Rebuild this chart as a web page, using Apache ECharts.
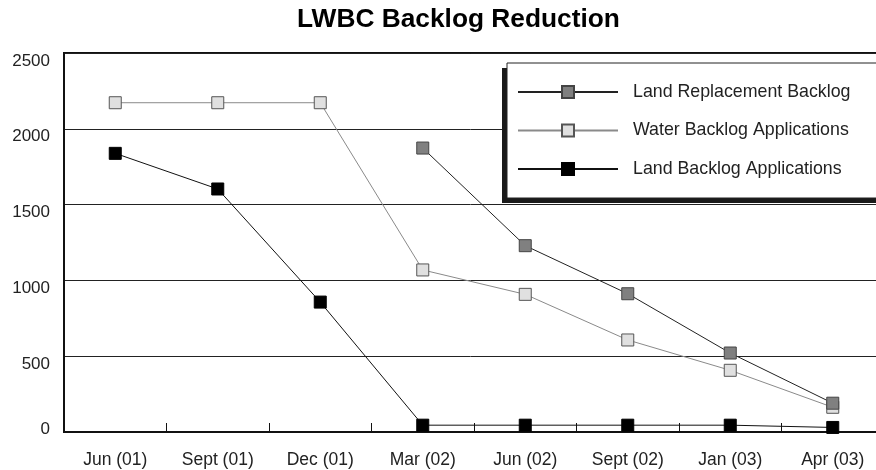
<!DOCTYPE html>
<html>
<head>
<meta charset="utf-8">
<script src="https://cdn.jsdelivr.net/npm/echarts@6/dist/echarts.min.js"></script>
<style>html,body{margin:0;padding:0;background:#fff;}#c{width:876px;height:470px;}</style>
</head>
<body>
<div id="c"></div>
<script>
const categories = ['Jun (01)', 'Sept (01)', 'Dec (01)', 'Mar (02)', 'Jun (02)', 'Sept (02)', 'Jan (03)', 'Apr (03)'];
const landReplacement = [null, null, null, 1873, 1229, 912, 521, 190];
const waterBacklog = [2172, 2172, 2172, 1069, 908, 607, 407, 163];
const landBacklog = [1838, 1603, 857, 45, 45, 45, 45, 30];
const yTicks = [0, 500, 1000, 1500, 2000, 2500];

const chart = echarts.init(document.getElementById('c'), null, {renderer: 'canvas'});
const FONT = 'Liberation Sans, Arial, sans-serif';
chart.setOption({
  animation: false,
  backgroundColor: '#fff',
  title: {
    text: 'LWBC Backlog Reduction',
    left: 297, top: 7, padding: 0,
    textStyle: {fontFamily: FONT, fontSize: 26.3, fontWeight: 'bold', color: '#000'}
  },
  grid: {left: 64, top: 53, width: 820, height: 379, outerBoundsMode: 'none', containLabel: false,
    show: true, borderColor: '#111', borderWidth: 2, backgroundColor: 'transparent'},
  graphic: [{
    type: 'rect', z: 3, silent: true,
    shape: {x: 502, y: 68, width: 400, height: 135},
    style: {fill: '#1a1a1a'}
  }],
  legend: {
    orient: 'vertical', left: 507, top: 63,
    padding: [20, 200, 20, 10],
    itemGap: 20.5, itemWidth: 100, itemHeight: 15,
    backgroundColor: '#fff', borderColor: '#222', borderWidth: 1,
    z: 5,
    textStyle: {fontFamily: FONT, fontSize: 17.8, color: '#222', padding: [0, 0, 0, 10]},
    data: ['Land Replacement Backlog', 'Water Backlog Applications', 'Land Backlog Applications']
  },
  xAxis: {
    type: 'category', data: categories, boundaryGap: true,
    axisLine: {show: true, lineStyle: {color: '#111', width: 2}},
    axisTick: {show: true, inside: true, length: 9, lineStyle: {color: '#111', width: 1}},
    axisLabel: {fontFamily: FONT, fontSize: 17.5, color: '#222', margin: 19},
    splitLine: {show: false}
  },
  yAxis: {
    type: 'value', min: yTicks[0], max: yTicks[yTicks.length - 1], interval: 500,
    axisLine: {show: true, lineStyle: {color: '#111', width: 2}},
    axisTick: {show: false},
    axisLabel: {
      fontFamily: FONT, fontSize: 17, color: '#222', margin: 14,
      formatter: function (v) { return v === 0 ? '{z|' + v + '}' : '{a|' + v + '}'; },
      rich: {
        a: {fontFamily: FONT, fontSize: 17, color: '#222', padding: [16, 0, 0, 0]},
        z: {fontFamily: FONT, fontSize: 17, color: '#222', padding: [0, 0, 6, 0]}
      }
    },
    splitLine: {show: true, lineStyle: {color: '#222', width: 1}}
  },
  series: [
    {
      name: 'Land Replacement Backlog', type: 'line', data: landReplacement,
      symbol: 'rect', symbolSize: 12, showAllSymbol: true,
      lineStyle: {color: '#222', width: 1},
      itemStyle: {color: '#808080', borderColor: '#444', borderWidth: 1},
      z: 3
    },
    {
      name: 'Water Backlog Applications', type: 'line', data: waterBacklog,
      symbol: 'rect', symbolSize: 12, showAllSymbol: true,
      lineStyle: {color: '#8a8a8a', width: 1},
      itemStyle: {color: '#e0e0e0', borderColor: '#555', borderWidth: 1},
      z: 2
    },
    {
      name: 'Land Backlog Applications', type: 'line', data: landBacklog,
      symbol: 'rect', symbolSize: 12, showAllSymbol: true,
      lineStyle: {color: '#111', width: 1},
      itemStyle: {color: '#000', borderColor: '#000', borderWidth: 1},
      z: 4
    }
  ]
});
</script>
</body>
</html>
